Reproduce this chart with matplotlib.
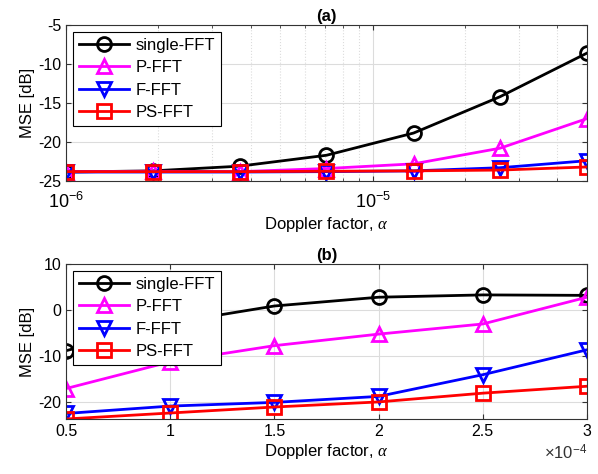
import numpy as np
import matplotlib.pyplot as plt

plt.rcParams['font.family'] = ['Liberation Sans', 'DejaVu Sans']
plt.rcParams['mathtext.fontset'] = 'custom'
plt.rcParams['mathtext.rm'] = 'Liberation Sans'
plt.rcParams['mathtext.it'] = 'Liberation Serif:italic'
plt.rcParams['mathtext.bf'] = 'Liberation Sans:bold'

names = ['single-FFT', 'P-FFT', 'F-FFT', 'PS-FFT']
colors = ['black', 'magenta', 'blue', 'red']
markers = ['o', '^', 'v', 's']

# (a) log-spaced doppler factors
alpha_a = [1e-6, 1.92e-6, 3.68e-6, 7.07e-6, 1.36e-5, 2.6e-5, 5e-5]
mse_a = [
    [-23.85, -23.7, -23.1, -21.7, -18.85, -14.2, -8.6],
    [-23.8, -23.75, -23.8, -23.4, -22.8, -20.8, -17.0],
    [-23.85, -23.85, -23.85, -23.8, -23.7, -23.3, -22.4],
    [-23.8, -23.8, -23.8, -23.75, -23.7, -23.6, -23.2],
]

# (b) linear doppler factors
alpha_b = [0.5e-4, 1e-4, 1.5e-4, 2e-4, 2.5e-4, 3e-4]
xt_b = ['0.5', '1', '1.5', '2', '2.5', '3']
mse_b = [
    [-8.8, -2.8, 0.9, 2.8, 3.3, 3.2],
    [-17.0, -11.2, -7.7, -5.2, -3.0, 2.8],
    [-22.4, -20.8, -20.0, -18.7, -14.0, -8.6],
    [-23.6, -22.3, -21.0, -19.9, -18.0, -16.5],
]

fig = plt.figure(figsize=(5.98, 4.74), dpi=100)
ax1 = fig.add_axes([66/598, 1-181/474, 521/598, 156/474])
ax2 = fig.add_axes([66/598, 1-419/474, 521/598, 155/474])

for i in range(4):
    ax1.plot(alpha_a, mse_a[i], color=colors[i], marker=markers[i], lw=2,
             ms=10, mfc='none', mew=2, label=names[i])
    ax2.plot(alpha_b, mse_b[i], color=colors[i], marker=markers[i], lw=2,
             ms=10, mfc='none', mew=2, label=names[i])

ax1.set_xscale('log')
ax1.set_xlim(1e-6, 5e-5)
ax1.set_ylim(-25, -5)
ax1.set_yticks([-25, -20, -15, -10, -5])
ax1.set_yticklabels(['-25', '-20', '-15', '-10', '-5'])
ax1.grid(True, which='major', color='#dcdcdc', lw=0.8)
ax1.grid(True, which='minor', axis='x', color='#dcdcdc', ls=':', lw=0.8)
ax1.set_title('(a)', fontweight='bold', fontsize=12, pad=3)

ax2.set_xlim(0.5e-4, 3e-4)
ax2.set_ylim(-23.6, 10)
ax2.set_yticks([-20, -10, 0, 10])
ax2.set_yticklabels(['-20', '-10', '0', '10'])
ax2.set_xticks(alpha_b)
ax2.set_xticklabels(xt_b)
ax2.grid(True, color='#dcdcdc', lw=0.8)
ax2.set_title('(b)', fontweight='bold', fontsize=12, pad=3)
ax2.text(1.0, -0.155, r'$\times\mathrm{10}^{\mathrm{-4}}$', transform=ax2.transAxes,
         ha='right', va='top', fontsize=12, color='#333333')

for ax in [ax1, ax2]:
    ax.set_axisbelow(True)
    ax.tick_params(direction='in', which='both', top=True, right=True,
                   labelsize=11.5, color='#333333')
    for s in ax.spines.values():
        s.set_color('#333333')
    ax.set_xlabel(r'Doppler factor, $\alpha$', fontsize=12, labelpad=2)
    ax.set_ylabel('MSE [dB]', fontsize=12, labelpad=2)
    leg = ax.legend(loc='upper left', fontsize=12, handlelength=3.0,
                    fancybox=False, framealpha=1, borderaxespad=0.4,
                    labelspacing=0.45, borderpad=0.35, handletextpad=0.4)
    leg.get_frame().set_edgecolor('black')
    leg.get_frame().set_linewidth(0.8)

ax1.tick_params(axis='x', which='major', pad=8, labelsize=13)

fig.savefig('out.png', dpi=100)
